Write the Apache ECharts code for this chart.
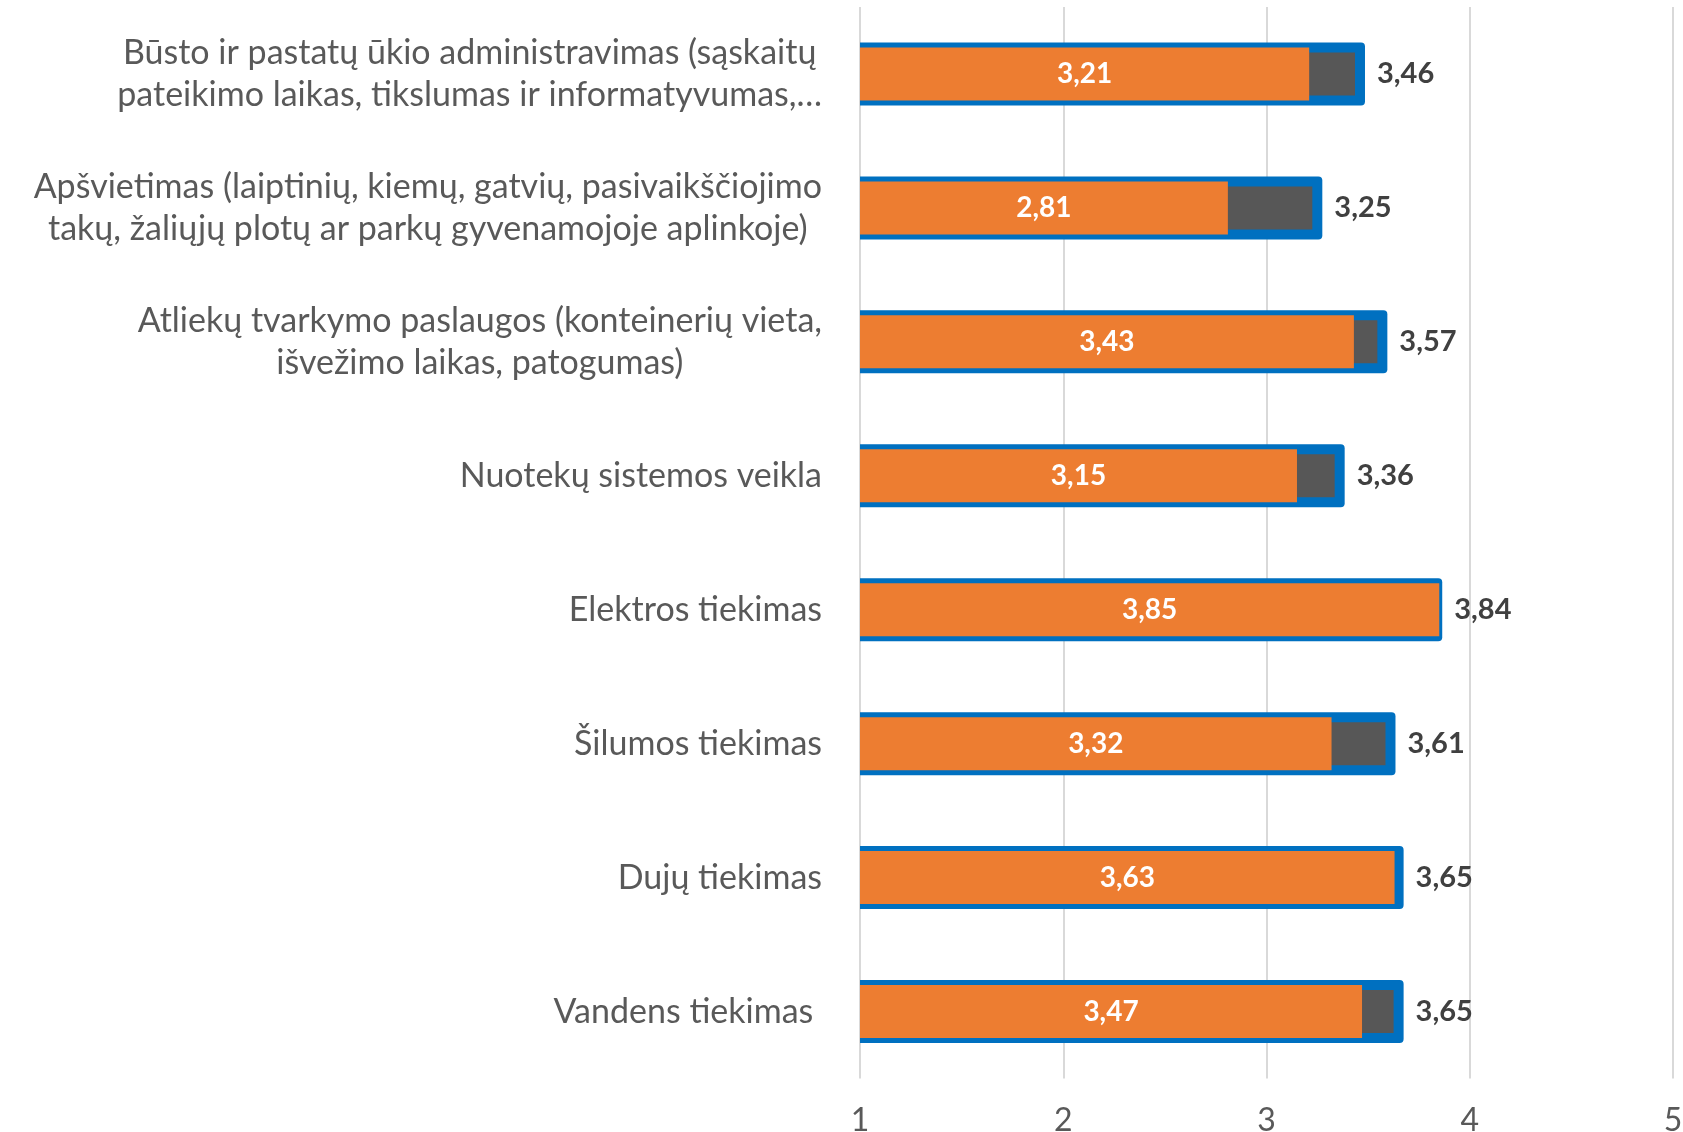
<!DOCTYPE html>
<html>
<head>
<meta charset="utf-8">
<script src="https://cdn.jsdelivr.net/npm/echarts@6/dist/echarts.min.js"></script>
<style>
  html, body { margin: 0; padding: 0; background: #fff; }
  #chart { width: 1683px; height: 1132px; }
</style>
</head>
<body>
<div id="chart"></div>
<script>
// kategorijos (iš viršaus į apačią)
const categories = [
    'Būsto ir pastatų ūkio administravimas (sąskaitų\npateikimo laikas, tikslumas ir informatyvumas,…',
    'Apšvietimas (laiptinių, kiemų, gatvių, pasivaikščiojimo\ntakų, žaliųjų plotų ar parkų gyvenamojoje aplinkoje)',
    'Atliekų tvarkymo paslaugos (konteinerių vieta,\nišvežimo laikas, patogumas)',
    'Nuotekų sistemos veikla',
    'Elektros tiekimas',
    'Šilumos tiekimas',
    'Dujų tiekimas',
    'Vandens tiekimas '
]
// oranžiniai stulpeliai
const orangeValues = [3.21, 2.81, 3.43, 3.15, 3.85, 3.32, 3.63, 3.47]
// mėlyni stulpeliai (su tamsiu užpildu)
const blueValues = [3.46, 3.25, 3.57, 3.36, 3.84, 3.61, 3.65, 3.65]
// x ašies padalos
const axisMin = 1
const axisMax = 5
const axisStep = 1

const FONT = 'Lato, "Noto Sans", sans-serif'
const fmt = v => v.toFixed(2).replace('.', ',')

const chart = echarts.init(document.getElementById('chart'))

const option = {
    animation: false,
    textStyle: { fontFamily: FONT },
    grid: {
        left: 860,
        right: 10,
        top: 7,
        bottom: 53.5,
        containLabel: false,
        outerBoundsMode: 'none'
    },
    xAxis: {
        type: 'value',
        min: axisMin,
        max: axisMax,
        interval: axisStep,
        axisLine: { show: false },
        axisTick: { show: false },
        splitLine: { lineStyle: { color: '#d9d9d9', width: 2 } },
        axisLabel: {
            color: '#595959',
            fontSize: 32,
            fontFamily: FONT,
            margin: 26
        }
    },
    yAxis: {
        type: 'category',
        inverse: true,
        data: categories,
        axisLine: { show: false },
        axisTick: { show: false },
        axisLabel: {
            margin: 38,
            align: 'right',
            color: '#595959',
            fontSize: 34,
            fontFamily: FONT,
            lineHeight: 42,
            // eilutės centruojamos bloko viduje
            formatter: v => v.split('\n').map(l => '{c|' + l + '}').join('\n'),
            rich: {
                c: { align: 'center', color: '#595959', fontSize: 34, fontFamily: FONT, lineHeight: 42 }
            }
        }
    },
    series: [
        {
            // mėlynas rėmelis su tamsiu užpildu
            type: 'custom',
            z: 2,
            data: blueValues.map((v, i) => [v, i]),
            encode: { x: 0, y: 1 },
            renderItem: (params, api) => {
                const idx = api.value(1)
                const end = api.coord([api.value(0), idx])
                const start = api.coord([axisMin, idx])
                const cy = end[1]
                const b = 5
                return {
                    type: 'group',
                    children: [
                        {
                            type: 'rect',
                            shape: { x: start[0], y: cy - 31.5, width: end[0] - start[0] + b, height: 63, r: [0, 4, 4, 0] },
                            style: { fill: '#0070c0' }
                        },
                        {
                            type: 'rect',
                            shape: { x: start[0], y: cy - 21.5, width: end[0] - start[0] - b, height: 43 },
                            style: { fill: '#575757' }
                        },
                        {
                            type: 'text',
                            z2: 10,
                            style: {
                                x: end[0] + 17,
                                y: cy,
                                text: fmt(api.value(0)),
                                fill: '#404040',
                                font: 'bold 29px ' + FONT,
                                verticalAlign: 'middle',
                                align: 'left'
                            }
                        }
                    ]
                }
            }
        },
        {
            type: 'bar',
            z: 3,
            data: orangeValues,
            barWidth: 53,
            itemStyle: { color: '#ed7d31' },
            label: {
                show: true,
                position: 'inside',
                color: '#fff',
                fontWeight: 'bold',
                fontSize: 28,
                fontFamily: FONT,
                formatter: p => fmt(p.value)
            }
        }
    ]
}

chart.setOption(option)
</script>
</body>
</html>
